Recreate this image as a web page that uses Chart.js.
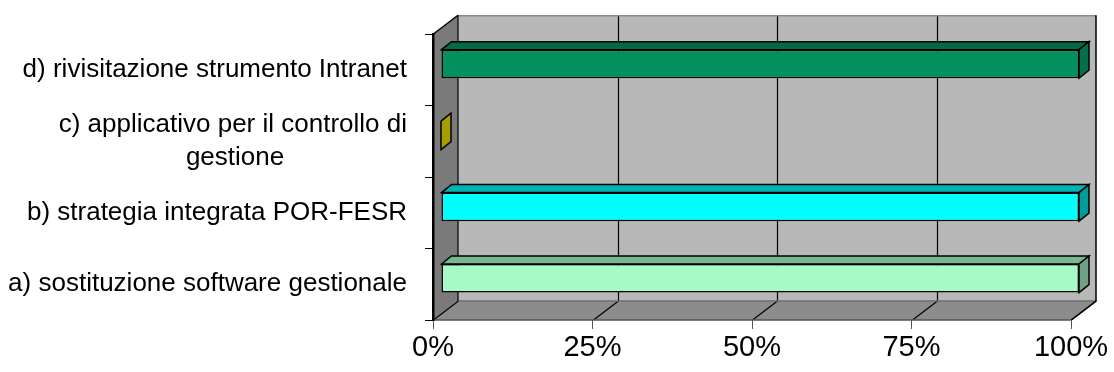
<!DOCTYPE html>
<html>
<head>
<meta charset="utf-8">
<script src="https://cdn.jsdelivr.net/npm/chart.js@4/dist/chart.umd.min.js"></script>
<style>
  html, body { margin: 0; padding: 0; background: #fff; }
  .chart-box { width: 1114px; height: 372px; }
</style>
</head>
<body>
<div class="chart-box"><canvas id="chart"></canvas></div>
<script>
// data, bottom to top as in the sheet
const categories = [
    'a) sostituzione software gestionale',
    'b) strategia integrata POR-FESR',
    ['c) applicativo per il controllo di', 'gestione' + ' '.repeat(17)], // pad so the 2nd line sits centred
    'd) rivisitazione strumento Intranet',
];
const completion = [100, 100, 0, 100];
const tickValues = [0, 25, 50, 75, 100];

// colours of each bar: front, top, end faces
const frontColors = ['#A6FAC5', '#00FFFF', '#C2B400', '#02915E'];
const topColors = ['#78B792', '#00B4B4', '#9C9000', '#036A45'];
const sideColors = ['#6DA384', '#009C9C', '#A89C00', '#02704A'];

const WALL = { x: 25, y: -19 };      // depth of the 3d box
const BAR_SHIFT = { x: 8, y: -6 };   // bars sit a bit behind the front plane
const BAR_DEPTH = { x: 10, y: -8 };

function poly(ctx, pts, fill, stroke) {
    ctx.beginPath();
    ctx.moveTo(pts[0][0], pts[0][1]);
    for (let i = 1; i < pts.length; i++) ctx.lineTo(pts[i][0], pts[i][1]);
    ctx.closePath();
    if (fill) { ctx.fillStyle = fill; ctx.fill(); }
    if (stroke) { ctx.strokeStyle = stroke; ctx.stroke(); }
}

function line(ctx, x1, y1, x2, y2, color, w) {
    ctx.beginPath();
    ctx.moveTo(x1, y1);
    ctx.lineTo(x2, y2);
    ctx.strokeStyle = color;
    ctx.lineWidth = w || 1;
    ctx.stroke();
}

const wallsPlugin = {
    id: 'walls',
    beforeDraw(chart) {
        const { ctx, chartArea: ca, scales } = chart;
        const L = ca.left, R = ca.right, T = ca.top, B = ca.bottom;
        const dx = WALL.x, dy = WALL.y;
        ctx.save();
        // back wall, side wall, floor
        ctx.fillStyle = '#B8B8B8';
        ctx.fillRect(L + dx, T + dy, R - L, B - T);
        poly(ctx, [[L, T], [L + dx, T + dy], [L + dx, B + dy], [L, B]], '#7A7A7A');
        poly(ctx, [[L, B], [L + dx, B + dy], [R + dx, B + dy], [R, B]], '#8C8C8C');

        // grid lines on the back wall and floor
        tickValues.forEach(v => {
            const x = Math.round(scales.x.getPixelForValue(v)) + 0.5;
            if (v > 0 && v < 100) line(ctx, x + dx, T + dy, x + dx, B + dy, '#000', 1.2);
            line(ctx, x, B, x + dx, B + dy, '#000', 1.2);
        });

        // edges of the box
        line(ctx, L + dx, T + dy + 0.5, R + dx, T + dy + 0.5, '#8A8A8A', 1.5);
        line(ctx, L + dx, B + dy, R + dx, B + dy, '#6E6E6E', 1.5);
        line(ctx, L + dx, T + dy, L + dx, B + dy, '#000', 1.2);
        line(ctx, R + dx, T + dy, R + dx, B + dy, '#000', 1.5);
        line(ctx, R + dx, B + dy, R, B, '#000', 1.2);
        line(ctx, L, T, L + dx, T + dy, '#000', 1.5);
        line(ctx, L, B, R, B, '#555', 1.5);
        ctx.restore();
    },
    beforeDatasetsDraw(chart) {
        chart.ctx.save();
        chart.ctx.translate(BAR_SHIFT.x, BAR_SHIFT.y);
    },
    afterDatasetsDraw(chart) {
        const ctx = chart.ctx;
        const dx = BAR_DEPTH.x, dy = BAR_DEPTH.y;
        ctx.lineWidth = 1.5;
        chart.getDatasetMeta(0).data.forEach((bar, i) => {
            const { x, y, base, height } = bar.getProps(['x', 'y', 'base', 'height'], true);
            const top = y - height / 2, bot = y + height / 2;
            if (x - base > 0.5) {
                poly(ctx, [[base, top], [base + dx, top + dy], [x + dx, top + dy], [x, top]], topColors[i], '#000');
            }
            poly(ctx, [[x, top], [x + dx, top + dy], [x + dx, bot + dy], [x, bot]], sideColors[i], '#000');
        });
        ctx.restore();
    },
};

const ctx = document.getElementById('chart');

new Chart(ctx, {
    type: 'bar',
    data: {
        labels: categories,
        datasets: [
            {
                data: completion,
                backgroundColor: frontColors,
                borderColor: '#000',
                borderWidth: 1.5,
                borderSkipped: false,
                categoryPercentage: 1,
                barPercentage: 0.4,
            },
        ],
    },
    options: {
        indexAxis: 'y',
        responsive: true,
        maintainAspectRatio: false,
        animation: false,
        layout: {
            padding: { top: 32, right: 43, left: 0, bottom: 0 },
        },
        plugins: {
            legend: { display: false },
            tooltip: { enabled: false },
        },
        scales: {
            x: {
                min: 0,
                max: 100,
                afterFit(scale) { scale.height = 52; },
                afterBuildTicks(scale) { scale.ticks = tickValues.map(v => ({ value: v })); },
                ticks: {
                    callback: v => v + '%',
                    color: '#000',
                    padding: 2,
                    maxRotation: 0,
                    font: { family: 'Liberation Sans, Arial, sans-serif', size: 29 },
                },
                grid: {
                    drawOnChartArea: false,
                    drawTicks: true,
                    tickLength: 9,
                    color: '#555',
                },
                border: { display: false },
            },
            y: {
                reverse: true,
                afterFit(scale) { scale.width = 433; },
                ticks: {
                    color: '#000',
                    padding: 18,
                    font: { family: 'Liberation Sans, Arial, sans-serif', size: 26, lineHeight: 1.25 },
                },
                grid: {
                    drawOnChartArea: false,
                    drawTicks: true,
                    tickLength: 8,
                    offset: true,
                    color: '#000',
                },
                border: { display: true, color: '#000', width: 2.5 },
            },
        },
    },
    plugins: [wallsPlugin],
});
</script>
</body>
</html>
